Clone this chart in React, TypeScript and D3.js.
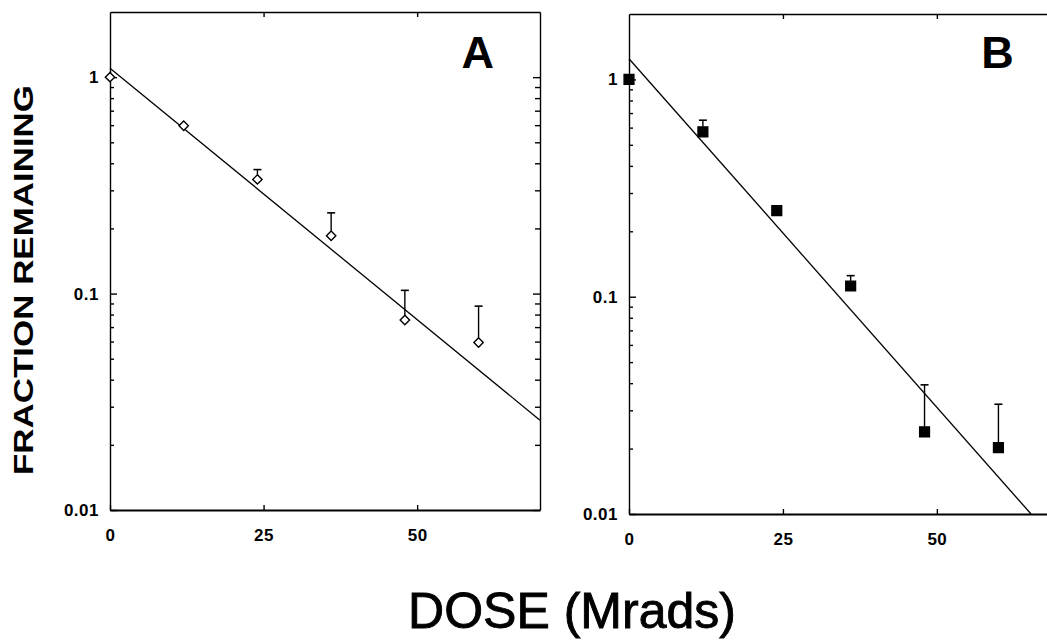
import React, { useEffect, useRef } from "react";
import * as d3 from "d3";

// dose (Mrads) for each measurement
const doses = [0, 12, 24, 36, 48, 60];

// panel A: open diamonds
const fractionA = [1, 0.596, 0.337, 0.185, 0.0755, 0.0594];
const errTopA = [null, null, 0.374, 0.236, 0.1035, 0.0875];

// panel B: filled squares
const fractionB = [1, 0.574, 0.249, 0.112, 0.0239, 0.0202];
const errTopB = [null, 0.649, null, 0.125, 0.0393, 0.032];

// fitted lines, given by their end points [dose, fraction]
const fitA: [number, number][] = [[0, 1.1], [70, 0.026]];
const fitB: [number, number][] = [[0, 1.245], [65.3, 0.01]];

const xTicks = [0, 25, 50];
const yMajor = [0.01, 0.1, 1];
const yMinor = [0.02, 0.03, 0.04, 0.05, 0.06, 0.07, 0.08, 0.09, 0.2, 0.3, 0.4, 0.5, 0.6, 0.7, 0.8, 0.9];
const yLabels = ["0.01", "0.1", "1"];

const FONT = "'Liberation Sans', Arial, Helvetica, sans-serif";

export default function App() {
  const ref = useRef<SVGSVGElement>(null);

  useEffect(() => {
    const svg = d3.select(ref.current);
    svg.selectAll("*").remove();

    const panels = [
      { label: "A", left: 110, top: 12, width: 430, height: 498, vals: fractionA, errs: errTopA, fit: fitA, marker: "diamond" },
      { label: "B", left: 629, top: 14, width: 431, height: 500, vals: fractionB, errs: errTopB, fit: fitB, marker: "square" },
    ];

    panels.forEach(p => {
      const g = svg.append("g").attr("transform", `translate(${p.left},${p.top})`);
      const x = d3.scaleLinear().domain([0, 70]).range([0, p.width]);
      const y = d3.scaleLog().domain([0.01, 2]).range([p.height, 0]);

      // left axis, ticks pointing inside
      const left = g.append("g").call(
        d3.axisLeft(y).tickValues(yMajor).tickFormat((d, i) => yLabels[i]).tickSizeInner(-7).tickSizeOuter(0).tickPadding(11)
      );
      left.select(".domain").attr("stroke-width", 1.4);
      g.append("g").call(d3.axisLeft(y).tickValues(yMinor).tickFormat(() => "").tickSizeInner(-4).tickSizeOuter(0))
        .select(".domain").remove();

      // right axis
      const right = g.append("g").attr("transform", `translate(${p.width},0)`);
      right.call(d3.axisRight(y).tickValues(yMajor).tickFormat(() => "").tickSizeInner(-7).tickSizeOuter(0));
      right.select(".domain").attr("stroke-width", 1.4);
      g.append("g").attr("transform", `translate(${p.width},0)`)
        .call(d3.axisRight(y).tickValues(yMinor).tickFormat(() => "").tickSizeInner(-5).tickSizeOuter(0))
        .select(".domain").remove();

      // bottom axis
      const bottom = g.append("g").attr("transform", `translate(0,${p.height})`)
        .call(d3.axisBottom(x).tickValues(xTicks).tickFormat(d3.format("d")).tickSizeInner(-5).tickSizeOuter(0).tickPadding(19));
      bottom.select(".domain").attr("stroke-width", 2.2);

      // top axis
      g.append("g").call(d3.axisTop(x).tickValues([25, 50]).tickFormat(() => "").tickSizeInner(-5).tickSizeOuter(0))
        .select(".domain").attr("stroke-width", 1.5);

      g.selectAll(".tick line").attr("stroke", "#000").attr("stroke-width", 1.4);
      g.selectAll(".domain").attr("stroke", "#000");
      g.selectAll(".tick text")
        .attr("fill", "#000")
        .attr("font-size", 17)
        .attr("font-family", FONT)
        .attr("font-weight", "bold")
        .attr("letter-spacing", 0.5);

      // fitted line
      const line = d3.line<[number, number]>().x(d => x(d[0])).y(d => y(d[1]));
      g.append("path").datum(p.fit).attr("d", line).attr("fill", "none").attr("stroke", "#000").attr("stroke-width", 1.3);

      const half = 5;

      // error bars (upper only)
      doses.forEach((dose, i) => {
        const top = p.errs[i];
        if (top == null) return;
        const cx = x(dose);
        g.append("line").attr("x1", cx).attr("x2", cx).attr("y1", y(p.vals[i]) - half).attr("y2", y(top))
          .attr("stroke", "#000").attr("stroke-width", 1.4);
        g.append("line").attr("x1", cx - 4).attr("x2", cx + 4).attr("y1", y(top)).attr("y2", y(top))
          .attr("stroke", "#000").attr("stroke-width", 1.6);
      });

      // markers
      const sym = p.marker === "diamond"
        ? d3.symbol().type(d3.symbolDiamond2).size(56)
        : d3.symbol().type(d3.symbolSquare).size(96);
      g.selectAll(".pt").data(doses).join("path")
        .attr("class", "pt")
        .attr("transform", (d, i) => `translate(${x(d)},${y(p.vals[i])})`)
        .attr("d", sym as any)
        .attr("fill", p.marker === "diamond" ? "#fff" : "#000")
        .attr("stroke", "#000")
        .attr("stroke-width", 1.4);

      // panel letter
      g.append("text").attr("x", p.width * 0.855).attr("y", 68 - p.top)
        .attr("text-anchor", "middle")
        .style("font-family", FONT).style("font-weight", "bold").style("font-size", "45px")
        .text(p.label);
    });

    // axis titles
    svg.append("text")
      .attr("transform", "translate(33,280) rotate(-90)")
      .attr("text-anchor", "middle")
      .attr("textLength", 390)
      .attr("lengthAdjust", "spacingAndGlyphs")
      .style("font-family", FONT).style("font-weight", "bold").style("font-size", "28px")
      .text("FRACTION REMAINING");

    svg.append("text")
      .attr("x", 572).attr("y", 628)
      .attr("text-anchor", "middle")
      .attr("stroke", "#000").attr("stroke-width", 0.9)
      .style("font-family", FONT).style("font-size", "50px")
      .text("DOSE (Mrads)");
  }, []);

  return (
    <svg ref={ref} width={1047} height={642}
      style={{ position: "absolute", left: 0, top: 0, background: "#fff" }} />
  );
}
